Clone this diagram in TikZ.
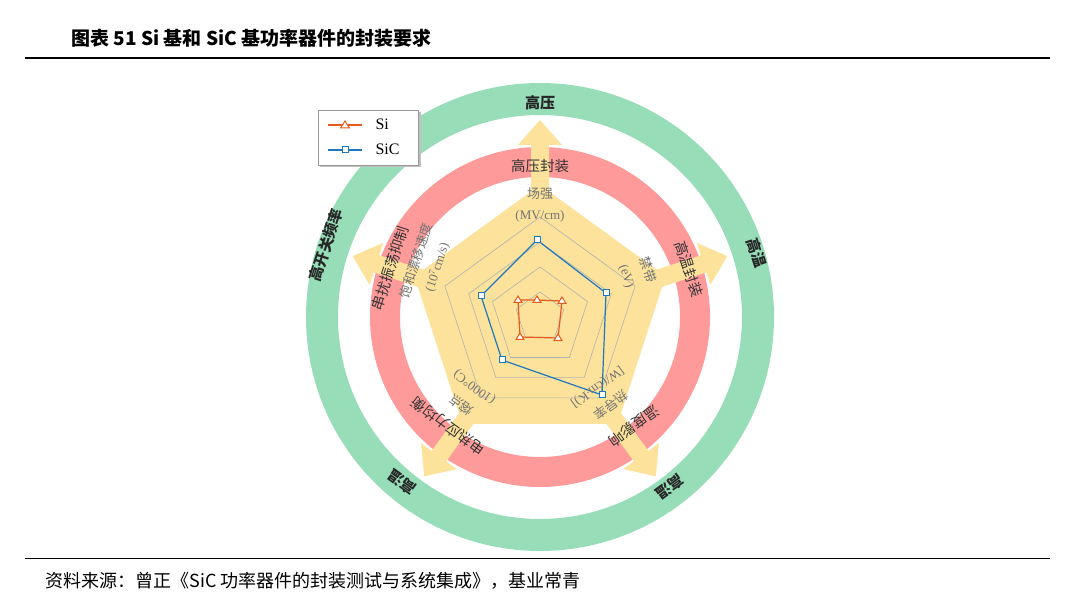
\documentclass[tikz,border=0pt]{standalone}
\usepackage{fontspec}
\setmainfont{Liberation Serif}
\newfontfamily\cjk{Noto Sans CJK SC}
\begin{document}
\begin{tikzpicture}[x=1pt,y=1pt,
  ylw/.style={fill={rgb,255:red,252;green,226;blue,154}},
  outerlbl/.style={font=\cjk\fontsize{15}{15}\selectfont\bfseries,text=black!85},
  redlbl/.style={font=\cjk\fontsize{14.5}{14.5}\selectfont,text=black!80},
  axlbl/.style={font=\fontsize{13}{21}\selectfont,text=black!55,align=center,inner sep=0pt},
  gridl/.style={draw=black!30,line width=0.6pt},
  siline/.style={draw={rgb,255:red,230;green,90;blue,30},line width=1.2pt},
  sicline/.style={draw={rgb,255:red,30;green,120;blue,190},line width=1.2pt}]
\useasboundingbox (0,0) rectangle (1080,606);
\fill[white] (0,0) rectangle (1080,606);
\node[anchor=west,font=\cjk\fontsize{19}{19}\selectfont\bfseries] (title) at (68,568) {图表 51 Si 基和 SiC 基功率器件的封装要求};
\draw[line width=1.3pt] (25,548) -- (1050,548);
\draw[line width=1pt] (25,48) -- (1050,48);
\node[anchor=west,font=\cjk\fontsize{18}{18}\selectfont] (src) at (42,25) {资料来源：曾正《SiC 功率器件的封装测试与系统集成》，基业常青};
\coordinate (C) at (540,289);
\begin{scope}[shift={(C)}]
 \draw[line width=32pt,draw={rgb,255:red,150;green,221;blue,184}] (0,0) circle (218);
 \draw[line width=30pt,draw={rgb,255:red,255;green,154;blue,154}] (0,0) circle (155);
 \fill[ylw] (90:132) -- (18:132) -- (-54:132) -- (-126:132) -- (162:132) -- cycle;
 \foreach \a in {90,18,-54,-126,162}{
   \fill[ylw,rotate=\a] (100,-9) -- (172,-9) -- (172,-22) -- (197,0) -- (172,22) -- (172,9) -- (100,9) -- cycle;
 }
 \foreach \r in {25,50,75,100}{
   \draw[gridl] (90:\r) -- (18:\r) -- (-54:\r) -- (-126:\r) -- (162:\r) -- cycle;
 }
\end{scope}
\draw[siline] (518,306) -- (537,306) -- (562,305) -- (558,268) -- (520,269) -- cycle;
\foreach \p in {(518,306),(537,306),(562,305),(558,268),(520,269)}{
  \draw[siline,fill=white,line width=1pt] \p ++(0,4) -- ++(-4,-6.5) -- ++(8,0) -- cycle;
}
\draw[sicline] (537,366) -- (606,313) -- (602,211) -- (502,246) -- (481,310) -- cycle;
\foreach \p in {(537,366),(606,313),(602,211),(502,246),(481,310)}{
  \draw[sicline,fill=white,line width=1pt] \p ++(-3,-3) rectangle ++(6,6);
}
\fill[black!25] (320,439) rectangle (421,494);
\draw[black!40,fill=white] (318,441) rectangle (418,496);
\draw[siline] (328,481) -- (362,481);
\draw[siline,fill=white,line width=1pt] (345,485) -- ++(-4.5,-7) -- ++(9,0) -- cycle;
\node[anchor=west,font=\fontsize{16}{16}\selectfont] (lsi) at (372,482) {Si};
\draw[sicline] (328,456) -- (362,456);
\draw[sicline,fill=white,line width=1pt] (342,453) rectangle ++(6,6);
\node[anchor=west,font=\fontsize{16}{16}\selectfont] (lsic) at (372,457) {SiC};
\node[outerlbl] (o1) at (540,503) {高压};
\node[outerlbl,rotate=-72] (o2) at (757,353) {高温};
\node[outerlbl,rotate=-144] (o3) at (670,119) {高温};
\node[outerlbl,rotate=144] (o4) at (402,124) {高温};
\node[outerlbl,rotate=72] (o5) at (326,361) {高开关频率};
\node[redlbl] (r1) at (540,440) {高压封装};
\node[redlbl,rotate=-72] (r2) at (689,337) {高温封装};
\node[redlbl,rotate=-144] (r3) at (634,180) {温度影响};
\node[redlbl,rotate=144] (r4) at (448,180) {电热应力均衡};
\node[redlbl,rotate=72] (r5) at (390,338) {串扰振荡抑制};
\node[axlbl] (a1) at (540,401) {{\cjk 场强}\\(MV/cm)};
\node[axlbl,rotate=-72] (a2) at (637,333) {{\cjk 禁带}\\(eV)};
\node[axlbl,rotate=-144] (a3) at (604,210) {{\cjk 热导率}\\{[W/(cm$\cdot$K)]}};
\node[axlbl,rotate=144] (a4) at (468,210) {{\cjk 熔点}\\(1000°C)};
\node[axlbl,rotate=72] (a5) at (427,342) {{\cjk 饱和漂移速度}\\(10$^7$cm/s)};
\end{tikzpicture}
\end{document}
